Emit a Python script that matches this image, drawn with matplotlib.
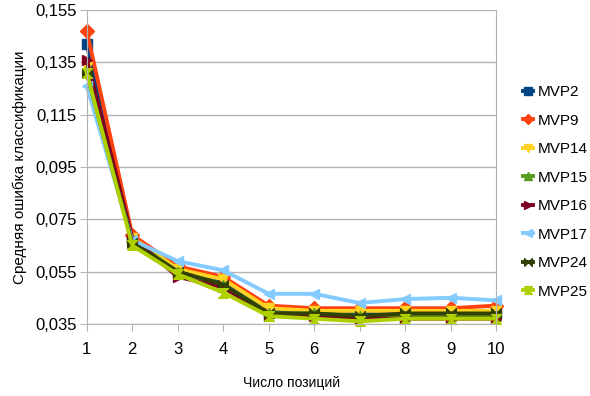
import matplotlib
matplotlib.use("Agg")
import matplotlib.pyplot as plt
from matplotlib.ticker import FuncFormatter

plt.rcParams['font.family'] = ['Liberation Sans', 'DejaVu Sans']

positions = [1, 2, 3, 4, 5, 6, 7, 8, 9, 10]
names = ['MVP2', 'MVP9', 'MVP14', 'MVP15', 'MVP16', 'MVP17', 'MVP24', 'MVP25']

mvp2 = [0.142, 0.068, 0.056, 0.051, 0.040, 0.040, 0.039, 0.039, 0.039, 0.039]
mvp9 = [0.147, 0.069, 0.057, 0.053, 0.042, 0.041, 0.041, 0.041, 0.041, 0.042]
mvp14 = [0.133, 0.068, 0.056, 0.052, 0.041, 0.040, 0.040, 0.040, 0.040, 0.040]
mvp15 = [0.132, 0.067, 0.055, 0.050, 0.039, 0.039, 0.038, 0.038, 0.038, 0.038]
mvp16 = [0.136, 0.068, 0.053, 0.049, 0.038, 0.038, 0.037, 0.037, 0.037, 0.037]
mvp17 = [0.126, 0.067, 0.059, 0.0555, 0.0465, 0.0465, 0.043, 0.0445, 0.045, 0.044]
mvp24 = [0.131, 0.066, 0.055, 0.050, 0.039, 0.039, 0.038, 0.039, 0.039, 0.039]
mvp25 = [0.131, 0.065, 0.054, 0.047, 0.038, 0.037, 0.036, 0.037, 0.037, 0.037]
series = [mvp2, mvp9, mvp14, mvp15, mvp16, mvp17, mvp24, mvp25]

yticks = [0.035, 0.055, 0.075, 0.095, 0.115, 0.135, 0.155]

colors = ['#004586', '#ff420e', '#ffd320', '#579d1c', '#7e0021', '#83caff', '#314004', '#aecf00']
bowtie = [(-1, -1), (-1, 1), (1, -1), (1, 1), (-1, -1)]
hourglass = [(-1, -1), (1, -1), (-1, 1), (1, 1), (-1, -1)]
markers = ['s', 'D', 'v', '^', '>', '<', bowtie, hourglass]

fig = plt.figure(figsize=(5.9, 3.96), dpi=100)
ax = fig.add_axes([0.147, 0.182, 0.694, 0.793])

for vals, name, c, m in zip(series, names, colors, markers):
    ax.plot(positions, vals, color=c, lw=2.8, marker=m, ms=7, mec=c, mfc=c,
            label=name, clip_on=False)

ax.set_xlim(1, 10)
ax.set_ylim(0.035, 0.155)
ax.set_xticks(positions)
ax.set_yticks(yticks)
ax.yaxis.set_major_formatter(FuncFormatter(lambda v, p: f'{v:.3f}'.replace('.', ',')))
ax.grid(axis='y', color='#b3b3b3', lw=1)
ax.set_axisbelow(True)
ax.spines['top'].set_visible(False)
for s in ['left', 'bottom', 'right']:
    ax.spines[s].set_color('#b3b3b3')
ax.tick_params(axis='both', colors='#b3b3b3', labelcolor='black', labelsize=12, length=5)
ax.tick_params(axis='x', pad=8)
ax.tick_params(axis='y', pad=2)

ax.set_xlabel('Число позиций', fontsize=10, labelpad=14)
ax.set_ylabel('Средняя ошибка классификации', fontsize=11, labelpad=6)

ax.legend(loc='center left', bbox_to_anchor=(1.05, 0.42), frameon=False, fontsize=11,
          handlelength=0.7, handletextpad=0.3, labelspacing=0.95, borderaxespad=0,
          markerscale=0.8)

fig.savefig('out.png', dpi=100)
